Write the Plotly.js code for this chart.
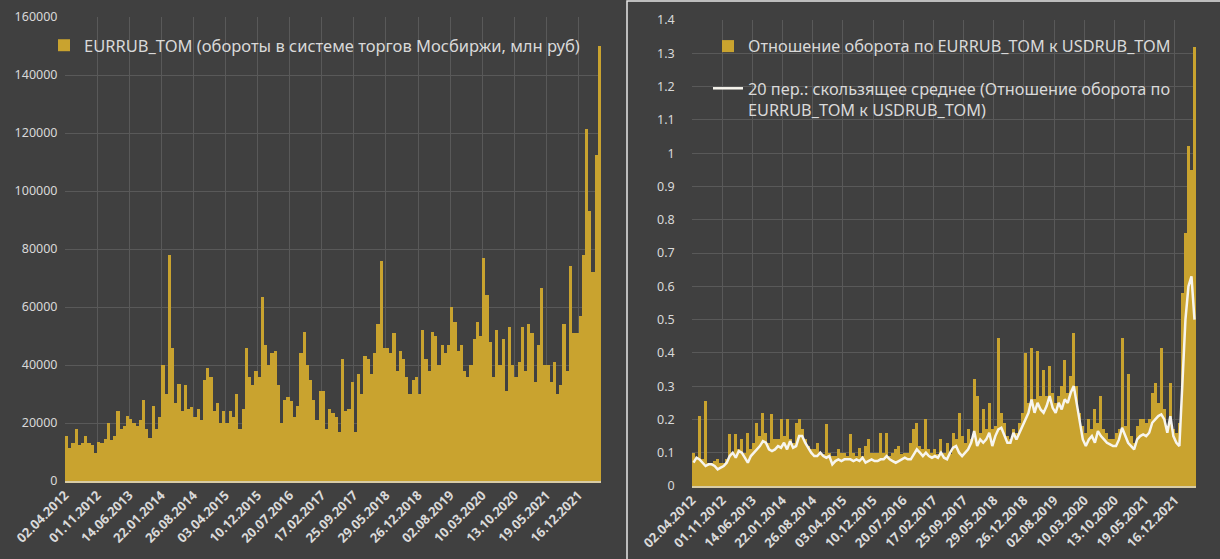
<!DOCTYPE html>
<html>
<head>
<meta charset="utf-8">
<script src="https://cdn.plot.ly/plotly-3.0.1.min.js"></script>
<style>
  html, body { margin: 0; padding: 0; background: #404040; }
  #plot { width: 1220px; height: 559px; }
</style>
</head>
<body>
<div id="plot"></div>
<script>
// tick labels of the category axis, one every 10 samples (~150 trading days)
let tickLabels = ['02.04.2012', '01.11.2012', '14.06.2013', '22.01.2014', '26.08.2014',
  '03.04.2015', '10.12.2015', '20.07.2016', '17.02.2017', '25.09.2017', '29.05.2018',
  '26.12.2018', '02.08.2019', '10.03.2020', '13.10.2020', '19.05.2021', '16.12.2021'];

// EURRUB_TOM turnover, mln rub (~15 trading days per sample)
let eurrubTom = [
  15500, 11500, 13000, 18000, 12500, 13000, 15500, 13000, 12500, 9500,
  13500, 13000, 14500, 20000, 14000, 15500, 24000, 18000, 19000, 22500,
  21500, 20000, 19000, 21000, 28000, 18000, 15000, 26000, 18000, 22000,
  40000, 30000, 78000, 46000, 27000, 33500, 24000, 33000, 25000, 25500,
  22000, 25000, 21000, 35000, 39000, 36000, 24000, 27000, 20000, 24000,
  20000, 24000, 22000, 30000, 18000, 25000, 46000, 36000, 33000, 38000,
  36000, 63500, 47000, 40000, 44000, 45000, 33000, 20000, 28000, 29000,
  27500, 22000, 26000, 44000, 51500, 40000, 35000, 28000, 21000, 31000,
  31000, 18000, 25000, 23500, 22000, 17000, 42000, 24000, 25000, 34000,
  17000, 37000, 30000, 43000, 42000, 37000, 44000, 54000, 76000, 46000,
  46000, 44000, 51000, 38000, 45000, 42000, 36000, 30000, 35000, 36000,
  30000, 52000, 42000, 38000, 51500, 50000, 40000, 47000, 44000, 47000,
  60000, 55000, 45000, 47000, 38000, 36000, 40000, 49000, 55000, 50000,
  77000, 64000, 48000, 36000, 52000, 40000, 49000, 31000, 53000, 40000,
  36000, 41000, 53000, 38000, 54000, 51000, 34000, 47000, 66500, 40000,
  40000, 34000, 41000, 30000, 33000, 54000, 38000, 74000, 51000, 51000,
  57000, 78000, 121500, 93000, 72000, 112500, 150000
];

// EURRUB_TOM / USDRUB_TOM turnover ratio
let ratioEurUsd = [
  0.1, 0.08, 0.21, 0.08, 0.255, 0.07, 0.07, 0.075, 0.08, 0.07,
  0.07, 0.08, 0.155, 0.1, 0.155, 0.11, 0.14, 0.1, 0.16, 0.11,
  0.13, 0.19, 0.15, 0.22, 0.16, 0.13, 0.215, 0.14, 0.14, 0.2,
  0.15, 0.2, 0.14, 0.13, 0.19, 0.2, 0.17, 0.14, 0.12, 0.11,
  0.11, 0.13, 0.1, 0.095, 0.185, 0.1, 0.09, 0.09, 0.11, 0.1,
  0.1, 0.09, 0.155, 0.1, 0.09, 0.115, 0.09, 0.12, 0.14, 0.1,
  0.1, 0.1, 0.16, 0.1, 0.16, 0.09, 0.1, 0.11, 0.12, 0.095,
  0.1, 0.1, 0.13, 0.17, 0.19, 0.12, 0.11, 0.2, 0.11, 0.1,
  0.11, 0.095, 0.14, 0.1, 0.13, 0.095, 0.16, 0.14, 0.22, 0.15,
  0.13, 0.17, 0.14, 0.32, 0.27, 0.16, 0.23, 0.17, 0.25, 0.17,
  0.18, 0.445, 0.22, 0.19, 0.15, 0.14, 0.17, 0.16, 0.19, 0.22,
  0.4, 0.25, 0.415, 0.26, 0.405, 0.27, 0.35, 0.27, 0.36, 0.28,
  0.25, 0.27, 0.3, 0.38, 0.28, 0.33, 0.46, 0.3, 0.22, 0.18,
  0.16, 0.2, 0.17, 0.23, 0.19, 0.27, 0.17, 0.16, 0.14, 0.14,
  0.16, 0.17, 0.445, 0.18, 0.335, 0.15, 0.13, 0.18, 0.2, 0.2,
  0.19, 0.2, 0.28, 0.31, 0.25, 0.415, 0.23, 0.18, 0.31, 0.17,
  0.16, 0.19, 0.58, 0.76, 1.02, 0.95, 1.32
];

// 20-period moving average of the ratio
let ratioMa20 = [
  0.07, 0.085, 0.08, 0.07, 0.06, 0.065, 0.065, 0.06, 0.05, 0.055,
  0.06, 0.07, 0.09, 0.1, 0.085, 0.105, 0.1, 0.085, 0.07, 0.09,
  0.1, 0.11, 0.12, 0.135, 0.13, 0.11, 0.105, 0.11, 0.12, 0.115,
  0.13, 0.11, 0.135, 0.115, 0.12, 0.15, 0.15, 0.13, 0.115, 0.1,
  0.09, 0.09, 0.1, 0.09, 0.085, 0.09, 0.065, 0.075, 0.08, 0.075,
  0.08, 0.08, 0.08, 0.075, 0.08, 0.075, 0.085, 0.07, 0.075, 0.08,
  0.075, 0.075, 0.08, 0.08, 0.09, 0.08, 0.075, 0.07, 0.075, 0.08,
  0.085, 0.08, 0.08, 0.095, 0.11, 0.1, 0.09, 0.1, 0.09, 0.085,
  0.09, 0.085, 0.1, 0.085, 0.08, 0.1, 0.115, 0.12, 0.1, 0.09,
  0.1, 0.11, 0.13, 0.165, 0.12, 0.14, 0.13, 0.14, 0.16, 0.12,
  0.15, 0.17, 0.175, 0.15, 0.13, 0.13, 0.16, 0.14, 0.16, 0.18,
  0.2, 0.22, 0.26, 0.22, 0.25, 0.23, 0.22, 0.24, 0.27, 0.235,
  0.22, 0.25, 0.23, 0.26, 0.25, 0.28, 0.3, 0.25, 0.19, 0.14,
  0.12, 0.14, 0.15, 0.13, 0.165, 0.15, 0.14, 0.13, 0.125, 0.12,
  0.12, 0.14, 0.175, 0.15, 0.13, 0.12, 0.11, 0.14, 0.15, 0.155,
  0.15, 0.16, 0.19, 0.2, 0.21, 0.215, 0.2, 0.16, 0.21, 0.15,
  0.13, 0.12, 0.3, 0.5, 0.6, 0.63, 0.5
];

let perTick = 10; // samples between two labelled gridlines
let gold = '#C9A32F';
let txt = '#D9D9D9';
let fontName = 'Noto Sans, Open Sans, sans-serif';

function initializePlot() {
  let idx = eurrubTom.map((v, i) => i);
  let tickVals = tickLabels.map((t, k) => k * perTick - 0.5);

  let data = [
    {
      x: idx, y: eurrubTom, type: 'bar', xaxis: 'x', yaxis: 'y',
      name: 'EURRUB_TOM (обороты в системе торгов Мосбиржи, млн руб)',
      marker: {color: gold, line: {width: 0}},
      legend: 'legend'
    },
    {
      x: idx, y: ratioEurUsd, type: 'bar', xaxis: 'x2', yaxis: 'y2',
      name: 'Отношение оборота по EURRUB_TOM к USDRUB_TOM',
      marker: {color: gold, line: {width: 0}},
      legend: 'legend2', legendgroup: 'a'
    },
    {
      x: idx, y: ratioMa20, type: 'scatter', mode: 'lines', xaxis: 'x2', yaxis: 'y2',
      name: '20 пер.: скользящее среднее (Отношение оборота по<br>EURRUB_TOM к USDRUB_TOM)',
      line: {color: '#F7F5EE', width: 2.5},
      legend: 'legend2', legendgroup: 'b'
    }
  ];

  let xCommon = {
    type: 'linear',
    range: [-0.5, eurrubTom.length - 0.5],
    tickmode: 'array',
    tickvals: tickVals,
    ticktext: tickLabels,
    tickangle: -45,
    tickfont: {family: fontName, size: 13, color: txt, weight: 'bold'},
    showgrid: true, gridcolor: '#595959', gridwidth: 1,
    showline: true, linecolor: '#D8CCA6', linewidth: 1.5,
    ticks: '', zeroline: false, automargin: false, fixedrange: true
  };
  let yCommon = {
    tickfont: {family: fontName, size: 12.5, color: txt},
    showgrid: true, gridcolor: '#595959', gridwidth: 1,
    zeroline: false, ticks: '', automargin: false, fixedrange: true
  };

  let layout = {
    width: 1220, height: 559,
    margin: {l: 0, r: 0, t: 0, b: 0},
    paper_bgcolor: '#404040', plot_bgcolor: '#404040',
    bargap: 0,
    showlegend: true,
    xaxis: Object.assign({}, xCommon, {domain: [65 / 1220, 601 / 1220], anchor: 'y'}),
    yaxis: Object.assign({}, yCommon, {domain: [1 - 481 / 559, 1 - 17 / 559], range: [0, 160000],
      dtick: 20000, tickformat: 'd', anchor: 'x', ticksuffix: '  '}),
    xaxis2: Object.assign({}, xCommon, {domain: [692 / 1220, 1196 / 1220], anchor: 'y2'}),
    yaxis2: Object.assign({}, yCommon, {domain: [1 - 486 / 559, 1 - 20 / 559], range: [0, 1.4],
      dtick: 0.1, anchor: 'x2', ticksuffix: '     '}),
    legend: {
      x: 44 / 1220, y: 1 - 28 / 559, xanchor: 'left', yanchor: 'top',
      bgcolor: 'rgba(0,0,0,0)', font: {family: fontName, size: 16.5, color: txt}
    },
    legend2: {
      x: 708 / 1220, y: 1 - 29 / 559, xanchor: 'left', yanchor: 'top',
      bgcolor: 'rgba(0,0,0,0)', font: {family: fontName, size: 16.3, color: txt},
      tracegroupgap: 18, valign: 'top'
    },
    shapes: [
      // frame of the right chart
      {type: 'rect', xref: 'paper', yref: 'paper', x0: 627 / 1220, x1: 1.02, y0: -0.02, y1: 1 - 1 / 559,
        line: {color: '#E6E6E6', width: 1.5}, fillcolor: 'rgba(0,0,0,0)'}
    ]
  };

  Plotly.newPlot('plot', data, layout, {staticPlot: true});
}

initializePlot();
</script>
</body>
</html>
